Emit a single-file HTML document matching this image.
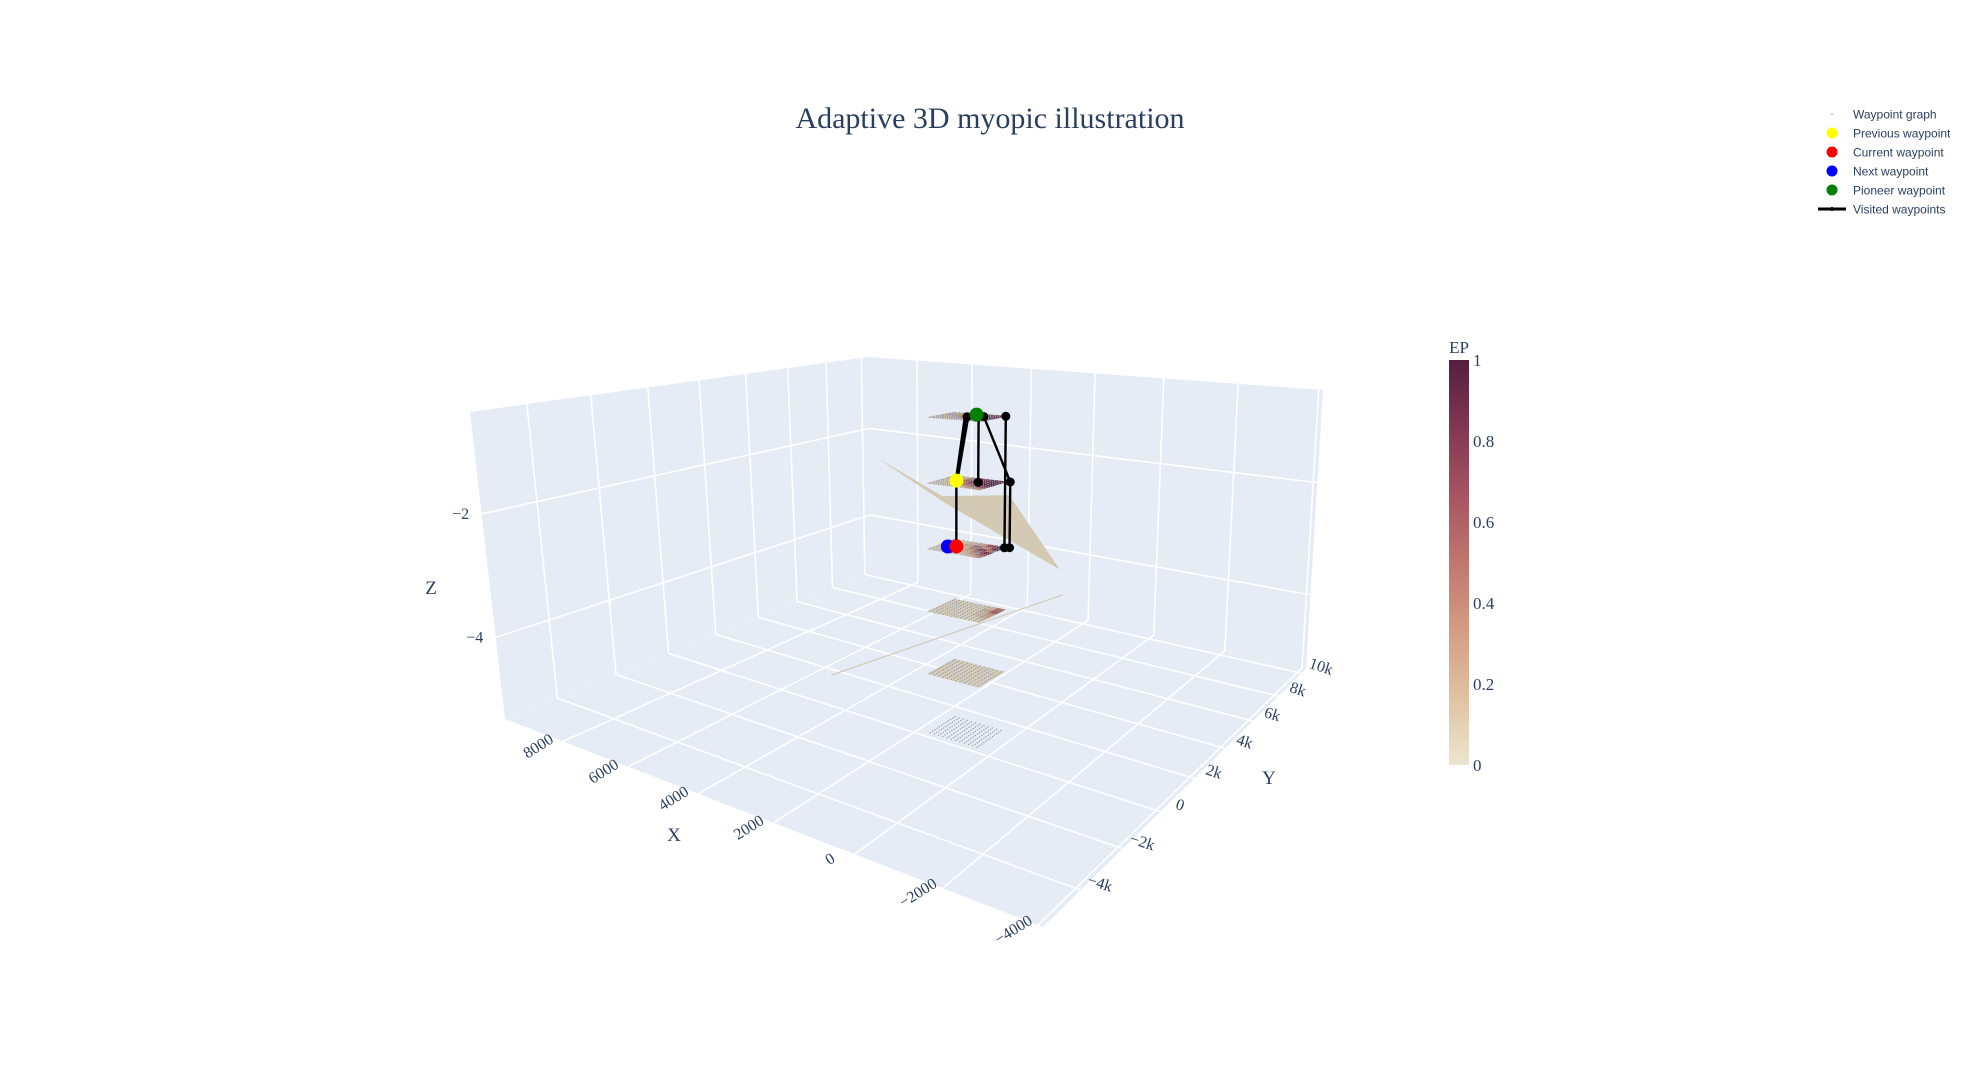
<!DOCTYPE html>
<html><head><meta charset="utf-8"><title>Adaptive 3D myopic illustration</title>
<style>
html,body{margin:0;padding:0;background:#fff;}
svg{display:block;font-family:"Liberation Serif",serif;}
</style></head>
<body>
<svg id="chart" width="1980" height="1080" viewBox="0 0 1980 1080" xmlns="http://www.w3.org/2000/svg">
<defs>
<linearGradient id="cbgrad" x1="0" y1="1" x2="0" y2="0">
<stop offset="0" stop-color="rgb(237,229,207)"/>
<stop offset="0.1667" stop-color="rgb(224,194,162)"/>
<stop offset="0.3333" stop-color="rgb(211,156,131)"/>
<stop offset="0.5" stop-color="rgb(193,118,111)"/>
<stop offset="0.6667" stop-color="rgb(166,84,97)"/>
<stop offset="0.8333" stop-color="rgb(129,55,83)"/>
<stop offset="1" stop-color="rgb(84,31,63)"/>
</linearGradient>
</defs>
<text x="990" y="128" text-anchor="middle" font-size="30" fill="#2a3f5f">Adaptive 3D myopic illustration</text>
<g id="scene"></g>
<g id="colorbar">
<text x="1459" y="353" text-anchor="middle" font-size="17" fill="#2a3f5f">EP</text>
<rect x="1449" y="360" width="20" height="405" fill="url(#cbgrad)"/>
</g>
<g id="legend" font-family="Liberation Sans, sans-serif" font-size="12" fill="#2a3f5f"></g>
</svg>
<script>
// ---- data ----
const xTicks = [-4000, -2000, 0, 2000, 4000, 6000, 8000];
const yTicks = [-4000, -2000, 0, 2000, 4000, 6000, 8000, 10000];
const yTickLabels = ["−4k", "−2k", "0", "2k", "4k", "6k", "8k", "10k"];
const zTicks = [-2, -4];
const zTickLabels = ["−2", "−4"];
const cbTicks = [0, 0.2, 0.4, 0.6, 0.8, 1];
const layerZ = [-0.4, -1.35, -2.3, -3.2, -4.1, -4.95];
const layerCenterX = 380;
const layerCenterY = -384;
const layerHalfX = 650;
const layerHalfY = 615;
const epLayer0 = [[0.2,0.5,0.8,0.9,1,0.9],[0.1,0.3,0.7,0.9,0.9,0.8],[0,0.2,0.5,0.8,0.9,0.7],[0,0.1,0.3,0.6,0.7,0.5],[0,0,0.1,0.2,0.3,0.2],[0,0,0,0.1,0.1,0]];
const epLayer1 = [[0.3,0.7,0.9,1,1,0.9],[0.2,0.5,0.8,0.95,0.9,0.9],[0,0.3,0.6,0.9,0.9,0.8],[0,0.1,0.3,0.5,0.6,0.4],[0,0,0.1,0.2,0.2,0.1],[0,0,0,0,0.1,0]];
const epLayer2 = [[0.3,0.6,0.9,0.4,0.9,0.8],[0.1,0.3,0.5,0.8,0.3,0.7],[0,0.1,0.2,0.4,0.5,0.2],[0,0,0.1,0.1,0.2,0.1],[0,0,0,0,0.1,0],[0,0,0,0,0,0]];
const epLayer3 = [[0,0.1,0.2,0.3,0.6,0.5],[0,0,0.1,0.1,0.2,0.1],[0,0,0,0,0,0],[0,0,0,0,0,0],[0,0,0,0,0,0],[0,0,0,0,0,0]];
const epLayer4 = [[0,0,0,0,0,0],[0,0,0,0,0,0],[0,0,0,0,0,0],[0,0,0,0,0,0],[0,0,0,0,0,0],[0,0,0,0,0,0]];
const graphNodeDX = [-600,-490,-380,-270,-160,-50,60,170,280,390,500,610];
const graphNodeDY = [-570,-466,-362,-258,-154,-50,54,158,262,366,470,574];
const visitedFromX = [553, 560, 575, 590, 540, 190, 103, -261, -261, -347];
const visitedFromY = [-539, -530, -520, -510, -545, -214, -139, 188, 188, 266];
const visitedFromZ = [-2.3, -1.35, -1.35, -1.35, -1.35, -1.35, -0.4, -0.4, -1.35, -1.35];
const visitedToX = [560, 380, 400, 420, 360, 190, -347, -261, -261, -347];
const visitedToY = [-530, -384, -400, -410, -370, -214, 266, 188, 188, 266];
const visitedToZ = [-1.35, -0.4, -0.4, -0.4, -0.4, -0.4, -1.35, -1.35, -2.3, -2.3];
const nodeX = [380, 190, 103, -261, 540, 575, 190, -347, 553, -261, -347];
const nodeY = [-384, -214, -139, 188, -545, -520, -214, 266, -539, 188, 266];
const nodeZ = [-0.4, -0.4, -0.4, -0.4, -1.35, -1.35, -1.35, -1.35, -2.3, -2.3, -2.3];
const prevWP = [553, -539, -1.35];
const currWP = [553, -539, -2.3];
const nextWP = [698, -663, -2.3];
const pioneerWP = [224, -244, -0.4];
const planeX = [2072, 642, -1272, -115, 1028];
const planeY = [-1417, -941, 903, 684, -338];
const planeZ = [-1.0, -1.6, -2.6, -1.6, -1.6];
const streakX = [2683, -788];
const streakY = [-2442, 2166];
const streakZ = [-4.1, -3.2];

// ---- projection ----
const X0=-4100, X1=9900, Y0=-5600, Y1=10400, Z0=-5.32, Z1=-0.35;
const CF=[1043,927], CL=[505,719], CR=[1306,669], CB=[871,572];
const TF=[1057,456], TL=[470,412], TR=[1323,390], TB=[868,357];
function warp(t,k){return k*t/(1+(k-1)*t);}
function bil(a,b,c,d,u,v){return [(1-u)*(1-v)*a[0]+u*(1-v)*b[0]+(1-u)*v*c[0]+u*v*d[0],(1-u)*(1-v)*a[1]+u*(1-v)*b[1]+(1-u)*v*c[1]+u*v*d[1]];}
function P(x,y,z){
  const u=warp((x-X0)/(X1-X0),1.3), v=warp((y-Y0)/(Y1-Y0),1.5), w=(z-Z0)/(Z1-Z0);
  const b=bil(CF,CL,CR,CB,u,v), t=bil(TF,TL,TR,TB,u,v);
  return [b[0]+(t[0]-b[0])*w, b[1]+(t[1]-b[1])*w];
}
const NS='http://www.w3.org/2000/svg';
const scene=document.getElementById('scene');
function mk(tag,attrs,parent){const e=document.createElementNS(NS,tag);for(const k in attrs)e.setAttribute(k,attrs[k]);(parent||scene).appendChild(e);return e;}
function pts(arr){return arr.map(p=>p[0].toFixed(1)+','+p[1].toFixed(1)).join(' ');}

// walls
let el;
el=mk('polygon',{points:pts([P(X1,Y0,Z0),P(X1,Y1,Z0),P(X1,Y1,Z1),P(X1,Y0,Z1)]),fill:'#e5ecf6'});


el=mk('polygon',{points:pts([P(X0,Y1,Z0),P(X1,Y1,Z0),P(X1,Y1,Z1),P(X0,Y1,Z1)]),fill:'#e5ecf6'});


el=mk('polygon',{points:pts([P(X0,Y0,Z0),P(X1,Y0,Z0),P(X1,Y1,Z0),P(X0,Y1,Z0)]),fill:'#e5ecf6'});



function gl(a,b,name){const e=mk('line',{x1:a[0],y1:a[1],x2:b[0],y2:b[1],stroke:'#fff','stroke-width':1.6});}
xTicks.forEach(x=>{gl(P(x,Y0,Z0),P(x,Y1,Z0),'x-gridline-floor');gl(P(x,Y1,Z0),P(x,Y1,Z1),'x-gridline-wall');});
yTicks.forEach(y=>{gl(P(X0,y,Z0),P(X1,y,Z0),'y-gridline-floor');gl(P(X1,y,Z0),P(X1,y,Z1),'y-gridline-wall');});
zTicks.forEach(z=>{gl(P(X1,Y0,z),P(X1,Y1,z),'z-gridline-left');gl(P(X0,Y1,z),P(X1,Y1,z),'z-gridline-right');});

// tick labels
xTicks.forEach(x=>{const p=P(x,Y0,Z0);const lx=p[0]-22,ly=p[1]+9;const t=mk('text',{x:lx,y:ly,'text-anchor':'middle','font-size':16,fill:'#2a3f5f',transform:`rotate(-32 ${lx} ${ly})`});t.textContent=String(x).replace('-','−');});
yTicks.forEach((y,i)=>{const p=P(X0,y,Z0);const lx=p[0]+18,ly=p[1]-2;const t=mk('text',{x:lx,y:ly,'text-anchor':'middle','font-size':16,fill:'#2a3f5f',transform:`rotate(18 ${lx} ${ly})`});t.textContent=yTickLabels[i];});
zTicks.forEach((z,i)=>{const p=P(X1,Y0,z);const t=mk('text',{x:p[0]-21,y:p[1]+5,'text-anchor':'middle','font-size':16,fill:'#2a3f5f'});t.textContent=zTickLabels[i];});
el=mk('text',{x:674,y:841,'text-anchor':'middle','font-size':19,fill:'#2a3f5f'});el.textContent='X';


el=mk('text',{x:1269,y:784,'text-anchor':'middle','font-size':19,fill:'#2a3f5f'});el.textContent='Y';


el=mk('text',{x:431,y:594,'text-anchor':'middle','font-size':19,fill:'#2a3f5f'});el.textContent='Z';



// colorscale
const cs=[[237,229,207],[224,194,162],[211,156,131],[193,118,111],[166,84,97],[129,55,83],[84,31,63]];
function col(v,shade){const s=Math.max(0,Math.min(1,v))*6;const i=Math.min(5,Math.floor(s));const f=s-i;const c=cs[i].map((a,k)=>Math.round((a+(cs[i+1][k]-a)*f)*shade));return `rgb(${c[0]},${c[1]},${c[2]})`;}

// layers
const epLayers=[epLayer0,epLayer1,epLayer2,epLayer3,epLayer4];
function drawGraphDots(z){
  const g=mk('g',{});
  
  
  graphNodeDX.forEach(dx=>graphNodeDY.forEach(dy=>{const p=P(layerCenterX+dx,layerCenterY+dy,z);mk('circle',{cx:p[0],cy:p[1],r:0.7,fill:'#9a9aa8'},g);}));
}
function drawLayer(li){
  const z=layerZ[li];
  if(li<epLayers.length){
    const ep=epLayers[li];const n=ep.length;
    const g=mk('g',{});
    
    
    for(let i=0;i<n;i++)for(let j=0;j<n;j++){
      const xa=layerCenterX-layerHalfX+2*layerHalfX*i/n, xb=layerCenterX-layerHalfX+2*layerHalfX*(i+1)/n;
      const ya=layerCenterY-layerHalfY+2*layerHalfY*j/n, yb=layerCenterY-layerHalfY+2*layerHalfY*(j+1)/n;
      const c=col(ep[i][j],0.9);
      mk('polygon',{points:pts([P(xa,ya,z),P(xb,ya,z),P(xb,yb,z),P(xa,yb,z)]),fill:c,stroke:c,'stroke-width':0.6},g);
    }
  }
  drawGraphDots(z);
}
el=mk('line',{x1:P(streakX[0],streakY[0],streakZ[0])[0],y1:P(streakX[0],streakY[0],streakZ[0])[1],x2:P(streakX[1],streakY[1],streakZ[1])[0],y2:P(streakX[1],streakY[1],streakZ[1])[1],stroke:'#d3cbb9','stroke-width':1.2});


for(let li=layerZ.length-1;li>=2;li--)drawLayer(li);
el=mk('polygon',{points:pts(planeX.map((x,i)=>P(x,planeY[i],planeZ[i]))),fill:'rgb(212,202,180)'});


drawLayer(1);drawLayer(0);

// visited path
visitedFromX.forEach((x,i)=>{const a=P(x,visitedFromY[i],visitedFromZ[i]),b=P(visitedToX[i],visitedToY[i],visitedToZ[i]);
  const e=mk('line',{x1:a[0],y1:a[1],x2:b[0],y2:b[1],stroke:'#000','stroke-width':2.4});
  
  });
nodeX.forEach((x,i)=>{const p=P(x,nodeY[i],nodeZ[i]);const e=mk('circle',{cx:p[0],cy:p[1],r:4.5,fill:'#000'});
  
  });
function wp(d,color,name){const p=P(d[0],d[1],d[2]);const e=mk('circle',{cx:p[0],cy:p[1]-2,r:7,fill:color});}
wp(nextWP,'#0000ff','next-waypoint-marker');
wp(currWP,'#ff0000','current-waypoint-marker');
wp(prevWP,'#ffff00','previous-waypoint-marker');
wp(pioneerWP,'#008000','pioneer-waypoint-marker');

// colorbar ticks
const cbg=document.getElementById('colorbar');
cbTicks.forEach(v=>{const y=765-405*v;const t=mk('text',{x:1473,y:y+6,'font-size':17,fill:'#2a3f5f'},cbg);t.textContent=String(v);});

// legend
const legendNames=['Waypoint graph','Previous waypoint','Current waypoint','Next waypoint','Pioneer waypoint','Visited waypoints'];
const legendColors=['#b0b0c0','#ffff00','#ff0000','#0000ff','#008000','#000'];
const lg=document.getElementById('legend');
legendNames.forEach((n,i)=>{
  const y=114+19*i;
  const g=mk('g',{},lg);
  
  
  if(i===0)mk('circle',{cx:1832,cy:y,r:0.9,fill:legendColors[i]},g);
  else if(i===5){mk('line',{x1:1818,y1:y,x2:1846,y2:y,stroke:'#000','stroke-width':3},g);mk('circle',{cx:1832,cy:y,r:2,fill:'#000'},g);}
  else mk('circle',{cx:1832,cy:y,r:5.5,fill:legendColors[i]},g);
  const t=mk('text',{x:1853,y:y+4.5},g);t.textContent=n;
});
</script>
</body></html>
